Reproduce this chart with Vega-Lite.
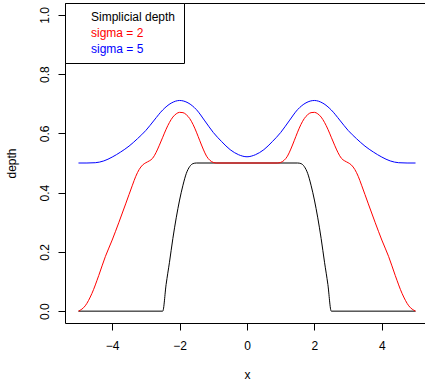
{
  "$schema": "https://vega.github.io/schema/vega-lite/v6.json",
  "width": 364,
  "height": 320,
  "autosize": {"type": "none"},
  "padding": {"left": 65, "top": 3, "right": 0, "bottom": 65},
  "config": {
    "font": "Liberation Sans",
    "view": {"stroke": "black", "strokeWidth": 1},
    "axis": {
      "grid": false, "domain": false, "tickColor": "black", "tickSize": 7,
      "labelFont": "Liberation Sans", "labelFontSize": 12, "labelColor": "black",
      "titleFont": "Liberation Sans", "titleFontSize": 12, "titleFontWeight": "normal", "titleColor": "black"
    }
  },
  "data": {"values": [
    {"x": -5, "depth": 0, "series": "Simplicial depth"},
    {"x": -2.5, "depth": 0, "series": "Simplicial depth"},
    {"x": -2.4, "depth": 0.09, "series": "Simplicial depth"},
    {"x": -2.3, "depth": 0.165, "series": "Simplicial depth"},
    {"x": -2.2, "depth": 0.245, "series": "Simplicial depth"},
    {"x": -2.1, "depth": 0.315, "series": "Simplicial depth"},
    {"x": -2.0, "depth": 0.375, "series": "Simplicial depth"},
    {"x": -1.9, "depth": 0.425, "series": "Simplicial depth"},
    {"x": -1.8, "depth": 0.465, "series": "Simplicial depth"},
    {"x": -1.7, "depth": 0.488, "series": "Simplicial depth"},
    {"x": -1.6, "depth": 0.498, "series": "Simplicial depth"},
    {"x": -1.5, "depth": 0.5, "series": "Simplicial depth"},
    {"x": 1.5, "depth": 0.5, "series": "Simplicial depth"},
    {"x": 1.6, "depth": 0.498, "series": "Simplicial depth"},
    {"x": 1.7, "depth": 0.488, "series": "Simplicial depth"},
    {"x": 1.8, "depth": 0.465, "series": "Simplicial depth"},
    {"x": 1.9, "depth": 0.425, "series": "Simplicial depth"},
    {"x": 2.0, "depth": 0.375, "series": "Simplicial depth"},
    {"x": 2.1, "depth": 0.315, "series": "Simplicial depth"},
    {"x": 2.2, "depth": 0.245, "series": "Simplicial depth"},
    {"x": 2.3, "depth": 0.165, "series": "Simplicial depth"},
    {"x": 2.4, "depth": 0.09, "series": "Simplicial depth"},
    {"x": 2.5, "depth": 0, "series": "Simplicial depth"},
    {"x": 5, "depth": 0, "series": "Simplicial depth"},

    {"x": -5.0, "depth": 0.0, "series": "sigma = 2"},
    {"x": -4.8, "depth": 0.018, "series": "sigma = 2"},
    {"x": -4.6, "depth": 0.06, "series": "sigma = 2"},
    {"x": -4.4, "depth": 0.12, "series": "sigma = 2"},
    {"x": -4.2, "depth": 0.185, "series": "sigma = 2"},
    {"x": -4.0, "depth": 0.24, "series": "sigma = 2"},
    {"x": -3.8, "depth": 0.3, "series": "sigma = 2"},
    {"x": -3.6, "depth": 0.362, "series": "sigma = 2"},
    {"x": -3.4, "depth": 0.425, "series": "sigma = 2"},
    {"x": -3.3, "depth": 0.455, "series": "sigma = 2"},
    {"x": -3.2, "depth": 0.478, "series": "sigma = 2"},
    {"x": -3.1, "depth": 0.493, "series": "sigma = 2"},
    {"x": -3.0, "depth": 0.501, "series": "sigma = 2"},
    {"x": -2.9, "depth": 0.507, "series": "sigma = 2"},
    {"x": -2.8, "depth": 0.516, "series": "sigma = 2"},
    {"x": -2.7, "depth": 0.535, "series": "sigma = 2"},
    {"x": -2.6, "depth": 0.56, "series": "sigma = 2"},
    {"x": -2.5, "depth": 0.587, "series": "sigma = 2"},
    {"x": -2.4, "depth": 0.614, "series": "sigma = 2"},
    {"x": -2.3, "depth": 0.637, "series": "sigma = 2"},
    {"x": -2.2, "depth": 0.655, "series": "sigma = 2"},
    {"x": -2.1, "depth": 0.666, "series": "sigma = 2"},
    {"x": -2.0, "depth": 0.671, "series": "sigma = 2"},
    {"x": -1.9, "depth": 0.67, "series": "sigma = 2"},
    {"x": -1.8, "depth": 0.663, "series": "sigma = 2"},
    {"x": -1.7, "depth": 0.65, "series": "sigma = 2"},
    {"x": -1.6, "depth": 0.63, "series": "sigma = 2"},
    {"x": -1.5, "depth": 0.604, "series": "sigma = 2"},
    {"x": -1.4, "depth": 0.575, "series": "sigma = 2"},
    {"x": -1.3, "depth": 0.547, "series": "sigma = 2"},
    {"x": -1.2, "depth": 0.523, "series": "sigma = 2"},
    {"x": -1.1, "depth": 0.509, "series": "sigma = 2"},
    {"x": -1.0, "depth": 0.502, "series": "sigma = 2"},
    {"x": -0.9, "depth": 0.5, "series": "sigma = 2"},
    {"x": 0.0, "depth": 0.5, "series": "sigma = 2"},
    {"x": 0.9, "depth": 0.5, "series": "sigma = 2"},
    {"x": 1.0, "depth": 0.502, "series": "sigma = 2"},
    {"x": 1.1, "depth": 0.509, "series": "sigma = 2"},
    {"x": 1.2, "depth": 0.523, "series": "sigma = 2"},
    {"x": 1.3, "depth": 0.547, "series": "sigma = 2"},
    {"x": 1.4, "depth": 0.575, "series": "sigma = 2"},
    {"x": 1.5, "depth": 0.604, "series": "sigma = 2"},
    {"x": 1.6, "depth": 0.63, "series": "sigma = 2"},
    {"x": 1.7, "depth": 0.65, "series": "sigma = 2"},
    {"x": 1.8, "depth": 0.663, "series": "sigma = 2"},
    {"x": 1.9, "depth": 0.67, "series": "sigma = 2"},
    {"x": 2.0, "depth": 0.671, "series": "sigma = 2"},
    {"x": 2.1, "depth": 0.666, "series": "sigma = 2"},
    {"x": 2.2, "depth": 0.655, "series": "sigma = 2"},
    {"x": 2.3, "depth": 0.637, "series": "sigma = 2"},
    {"x": 2.4, "depth": 0.614, "series": "sigma = 2"},
    {"x": 2.5, "depth": 0.587, "series": "sigma = 2"},
    {"x": 2.6, "depth": 0.56, "series": "sigma = 2"},
    {"x": 2.7, "depth": 0.535, "series": "sigma = 2"},
    {"x": 2.8, "depth": 0.516, "series": "sigma = 2"},
    {"x": 2.9, "depth": 0.507, "series": "sigma = 2"},
    {"x": 3.0, "depth": 0.501, "series": "sigma = 2"},
    {"x": 3.1, "depth": 0.493, "series": "sigma = 2"},
    {"x": 3.2, "depth": 0.478, "series": "sigma = 2"},
    {"x": 3.3, "depth": 0.455, "series": "sigma = 2"},
    {"x": 3.4, "depth": 0.425, "series": "sigma = 2"},
    {"x": 3.6, "depth": 0.362, "series": "sigma = 2"},
    {"x": 3.8, "depth": 0.3, "series": "sigma = 2"},
    {"x": 4.0, "depth": 0.24, "series": "sigma = 2"},
    {"x": 4.2, "depth": 0.185, "series": "sigma = 2"},
    {"x": 4.4, "depth": 0.12, "series": "sigma = 2"},
    {"x": 4.6, "depth": 0.06, "series": "sigma = 2"},
    {"x": 4.8, "depth": 0.018, "series": "sigma = 2"},
    {"x": 5.0, "depth": 0.0, "series": "sigma = 2"},

    {"x": -5.0, "depth": 0.5, "series": "sigma = 5"},
    {"x": -4.75, "depth": 0.5, "series": "sigma = 5"},
    {"x": -4.5, "depth": 0.501, "series": "sigma = 5"},
    {"x": -4.25, "depth": 0.507, "series": "sigma = 5"},
    {"x": -4.0, "depth": 0.52, "series": "sigma = 5"},
    {"x": -3.75, "depth": 0.537, "series": "sigma = 5"},
    {"x": -3.5, "depth": 0.557, "series": "sigma = 5"},
    {"x": -3.25, "depth": 0.582, "series": "sigma = 5"},
    {"x": -3.0, "depth": 0.61, "series": "sigma = 5"},
    {"x": -2.75, "depth": 0.645, "series": "sigma = 5"},
    {"x": -2.5, "depth": 0.679, "series": "sigma = 5"},
    {"x": -2.25, "depth": 0.702, "series": "sigma = 5"},
    {"x": -2.0, "depth": 0.711, "series": "sigma = 5"},
    {"x": -1.75, "depth": 0.703, "series": "sigma = 5"},
    {"x": -1.5, "depth": 0.68, "series": "sigma = 5"},
    {"x": -1.25, "depth": 0.642, "series": "sigma = 5"},
    {"x": -1.0, "depth": 0.603, "series": "sigma = 5"},
    {"x": -0.75, "depth": 0.572, "series": "sigma = 5"},
    {"x": -0.5, "depth": 0.545, "series": "sigma = 5"},
    {"x": -0.25, "depth": 0.528, "series": "sigma = 5"},
    {"x": 0.0, "depth": 0.521, "series": "sigma = 5"},
    {"x": 0.25, "depth": 0.528, "series": "sigma = 5"},
    {"x": 0.5, "depth": 0.545, "series": "sigma = 5"},
    {"x": 0.75, "depth": 0.572, "series": "sigma = 5"},
    {"x": 1.0, "depth": 0.603, "series": "sigma = 5"},
    {"x": 1.25, "depth": 0.642, "series": "sigma = 5"},
    {"x": 1.5, "depth": 0.68, "series": "sigma = 5"},
    {"x": 1.75, "depth": 0.703, "series": "sigma = 5"},
    {"x": 2.0, "depth": 0.711, "series": "sigma = 5"},
    {"x": 2.25, "depth": 0.702, "series": "sigma = 5"},
    {"x": 2.5, "depth": 0.679, "series": "sigma = 5"},
    {"x": 2.75, "depth": 0.645, "series": "sigma = 5"},
    {"x": 3.0, "depth": 0.61, "series": "sigma = 5"},
    {"x": 3.25, "depth": 0.582, "series": "sigma = 5"},
    {"x": 3.5, "depth": 0.557, "series": "sigma = 5"},
    {"x": 3.75, "depth": 0.537, "series": "sigma = 5"},
    {"x": 4.0, "depth": 0.52, "series": "sigma = 5"},
    {"x": 4.25, "depth": 0.507, "series": "sigma = 5"},
    {"x": 4.5, "depth": 0.501, "series": "sigma = 5"},
    {"x": 4.75, "depth": 0.5, "series": "sigma = 5"},
    {"x": 5.0, "depth": 0.5, "series": "sigma = 5"}
  ]},
  "mark": {"type": "line", "strokeWidth": 1, "interpolate": "monotone"},
  "encoding": {
    "x": {
      "field": "x", "type": "quantitative", "title": "x",
      "scale": {"domain": [-5.4, 5.4], "nice": false, "zero": false},
      "axis": {"values": [-4, -2, 0, 2, 4], "labelPadding": 10, "titlePadding": 18, "labelFlush": false}
    },
    "y": {
      "field": "depth", "type": "quantitative", "title": "depth",
      "scale": {"domain": [-0.04, 1.04], "nice": false, "zero": false},
      "axis": {"values": [0, 0.2, 0.4, 0.6, 0.8, 1.0], "format": ".1f", "labelAngle": 270, "labelAlign": "center", "labelBaseline": "bottom", "labelPadding": 7, "titlePadding": 20, "labelFlush": false}
    },
    "color": {
      "field": "series", "type": "nominal",
      "scale": {"domain": ["Simplicial depth", "sigma = 2", "sigma = 5"], "range": ["black", "red", "blue"]},
      "legend": {
        "title": null, "orient": "top-left", "offset": 0,
        "strokeColor": "black", "fillColor": "white", "padding": 8,
        "symbolOpacity": 0, "symbolSize": 100, "labelOffset": 6, "rowPadding": 4,
        "labelFontSize": 12, "labelFont": "Liberation Sans",
        "encode": {"labels": {"update": {"fill": {"scale": "color", "field": "value"}}}}
      }
    },
    "detail": {"field": "series"}
  }
}
